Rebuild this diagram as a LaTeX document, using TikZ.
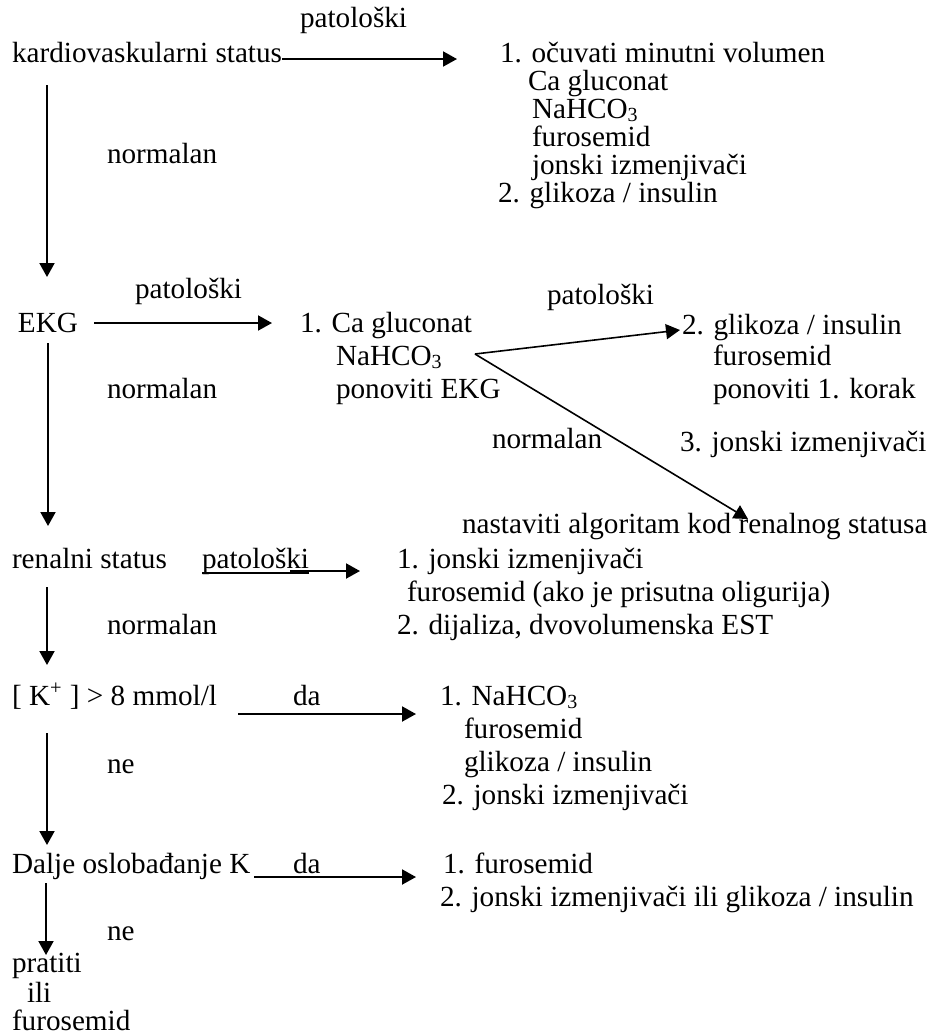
\documentclass[tikz,border=0pt]{standalone}
\usepackage{fontspec}
\setmainfont{Liberation Serif}
\usetikzlibrary{arrows.meta}
\newcommand{\subthree}{\raisebox{-1.5pt}{\fontsize{10}{10}\selectfont 3}}
\begin{document}
\begin{tikzpicture}[x=0.5pt,y=-0.5pt,
  txt/.style={anchor=base west,inner sep=0pt,outer sep=0pt,font=\fontsize{14.6}{16.5}\selectfont},
  arr/.style={line width=1pt,-{Triangle[length=7pt,width=7.5pt]}},
  darr/.style={line width=0.8pt,-{Triangle[length=7pt,width=7.5pt]}},
  uline/.style={line width=0.6pt}]
\useasboundingbox (0,0) rectangle (934,1035);
% --- texts ---
\node[txt] (pat1) at (300,27) {patološki};
\node[txt] (kv) at (12,62) {kardiovaskularni status};
\node[txt] (a1) at (500,62) {1. očuvati minutni volumen};
\node[txt] (a2) at (528,90) {Ca gluconat};
\node[txt] (a3) at (532,118) {NaHCO\subthree};
\node[txt] (a4) at (532,146) {furosemid};
\node[txt] (a5) at (532,174) {jonski izmenjivači};
\node[txt] (a6) at (498,202) {2. glikoza / insulin};
\node[txt] (norm1) at (107,163) {normalan};
\node[txt] (pat2) at (135,298) {patološki};
\node[txt] (ekg) at (18,332) {EKG};
\node[txt] (b1) at (300,332) {1. Ca gluconat};
\node[txt] (b2) at (336,365) {NaHCO\subthree};
\node[txt] (b3) at (336,398) {ponoviti EKG};
\node[txt] (norm2) at (107,398) {normalan};
\node[txt] (pat3) at (547,304) {patološki};
\node[txt] (c1) at (682,334) {2. glikoza / insulin};
\node[txt] (c2) at (713,365) {furosemid};
\node[txt] (c3) at (713,398) {ponoviti 1. korak};
\node[txt] (norm3) at (492,448) {normalan};
\node[txt] (d1) at (680,451) {3. jonski izmenjivači};
\node[txt] (nast) at (462,533) {nastaviti algoritam kod renalnog statusa};
\node[txt] (ren) at (12,568) {renalni status};
\node[txt] (pat4) at (202,568) {patološki};
\node[txt] (e1) at (397,568) {1. jonski izmenjivači};
\node[txt] (e2) at (407,601) {furosemid (ako je prisutna oligurija)};
\node[txt] (e3) at (397,634) {2. dijaliza, dvovolumenska EST};
\node[txt] (norm4) at (107,634) {normalan};
\node[txt] (kk) at (12,705) {[ K\textsuperscript{+} ] > 8 mmol/l};
\node[txt] (da1) at (293,705) {da};
\node[txt] (f1) at (440,705) {1. NaHCO\subthree};
\node[txt] (f2) at (464,738) {furosemid};
\node[txt] (f3) at (464,771) {glikoza / insulin};
\node[txt] (f4) at (442,804) {2. jonski izmenjivači};
\node[txt] (ne1) at (107,773) {ne};
\node[txt] (dalje) at (12,873) {Dalje oslobađanje K};
\node[txt] (da2) at (293,873) {da};
\node[txt] (g1) at (443,873) {1. furosemid};
\node[txt] (g2) at (440,906) {2. jonski izmenjivači ili glikoza / insulin};
\node[txt] (ne2) at (107,940) {ne};
\node[txt] (pr) at (12,972) {pratiti};
\node[txt] (ili) at (27,1002) {ili};
\node[txt] (fur) at (12,1030) {furosemid};
% --- connector ends ---
\coordinate (h1s) at (282,59);  \coordinate (h1e) at (457,59);
\coordinate (v1s) at (47,85);   \coordinate (v1e) at (47,277);
\coordinate (h2s) at (94,323);  \coordinate (h2e) at (272,323);
\coordinate (v2s) at (48,343);  \coordinate (v2e) at (48,526);
\coordinate (fork) at (475,354);
\coordinate (up) at (680,330);  \coordinate (dn) at (748,519);
\coordinate (h3s) at (290,571); \coordinate (h3e) at (360,571);
\coordinate (v3s) at (47,587);  \coordinate (v3e) at (47,665);
\coordinate (h4s) at (238,714); \coordinate (h4e) at (416,714);
\coordinate (v4s) at (47,733);  \coordinate (v4e) at (47,845);
\coordinate (h5s) at (254,877); \coordinate (h5e) at (416,877);
\coordinate (v5s) at (46,883);  \coordinate (v5e) at (46,955);
% --- connectors ---
\draw[arr] (h1s) -- (h1e);
\draw[arr] (v1s) -- (v1e);
\draw[arr] (h2s) -- (h2e);
\draw[arr] (v2s) -- (v2e);
\draw[darr] (fork) -- (up);
\draw[darr] (fork) -- (dn);
\draw[uline] ([yshift=-2.5pt]pat4.base west) -- ([yshift=-2.5pt]pat4.base east);
\draw[arr] (h3s) -- (h3e);
\draw[arr] (v3s) -- (v3e);
\draw[arr] (h4s) -- (h4e);
\draw[arr] (v4s) -- (v4e);
\draw[arr] (h5s) -- (h5e);
\draw[arr] (v5s) -- (v5e);
\end{tikzpicture}
\end{document}
